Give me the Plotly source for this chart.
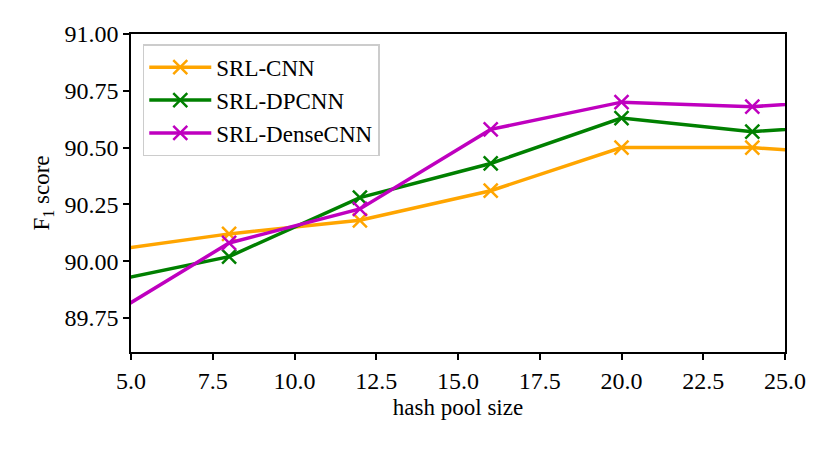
import plotly.graph_objects as go

pool_size = [4, 8, 12, 16, 20, 24, 28]
srl_cnn = [90.04, 90.12, 90.18, 90.31, 90.50, 90.50, 90.46]
srl_dpcnn = [89.90, 90.02, 90.28, 90.43, 90.63, 90.57, 90.61]
srl_densecnn = [89.73, 90.08, 90.23, 90.58, 90.70, 90.68, 90.72]

series = [
    ("SRL-CNN", srl_cnn, "#FFA500"),
    ("SRL-DPCNN", srl_dpcnn, "#008000"),
    ("SRL-DenseCNN", srl_densecnn, "#BF00BF"),
]

font_family = "Liberation Serif"
fig = go.Figure()
for name, vals, color in series:
    fig.add_trace(go.Scatter(
        x=pool_size, y=vals, name=name, mode="lines+markers",
        line=dict(color=color, width=3.5),
        marker=dict(symbol="x-thin", size=14, line=dict(color=color, width=2.5)),
    ))

axis_common = dict(
    showline=True, linecolor="black", linewidth=1.5, mirror=True,
    ticks="outside", ticklen=6, tickwidth=1.5, tickcolor="black",
    showgrid=False, zeroline=False,
    tickfont=dict(family=font_family, size=24, color="black"),
)
fig.update_xaxes(range=[5, 25], tickvals=[5, 7.5, 10, 12.5, 15, 17.5, 20, 22.5, 25],
                 ticktext=["5.0", "7.5", "10.0", "12.5", "15.0", "17.5", "20.0", "22.5", "25.0"],
                 title=dict(text="hash pool size", font=dict(family=font_family, size=23, color="black"), standoff=6),
                 **axis_common)
fig.update_yaxes(range=[89.6, 91.0], tickvals=[89.75, 90.0, 90.25, 90.5, 90.75, 91.0],
                 ticktext=["89.75", "90.00", "90.25", "90.50", "90.75", "91.00"],
                 title=dict(text="F<sub>1</sub> score", font=dict(family=font_family, size=23, color="black"), standoff=8),
                 **axis_common)
fig.update_layout(
    width=830, height=449,
    margin=dict(l=123, r=53, t=26, b=105),
    plot_bgcolor="white", paper_bgcolor="white",
    font=dict(family=font_family, size=23, color="black"),
    legend=dict(x=0.018, y=0.968, xanchor="left", yanchor="top",
                bordercolor="#cccccc", borderwidth=1.5, bgcolor="rgba(255,255,255,0.8)",
                font=dict(family=font_family, size=23, color="black"),
                itemwidth=62, tracegroupgap=0),
    showlegend=True,
)
fig.write_html("out.html")
